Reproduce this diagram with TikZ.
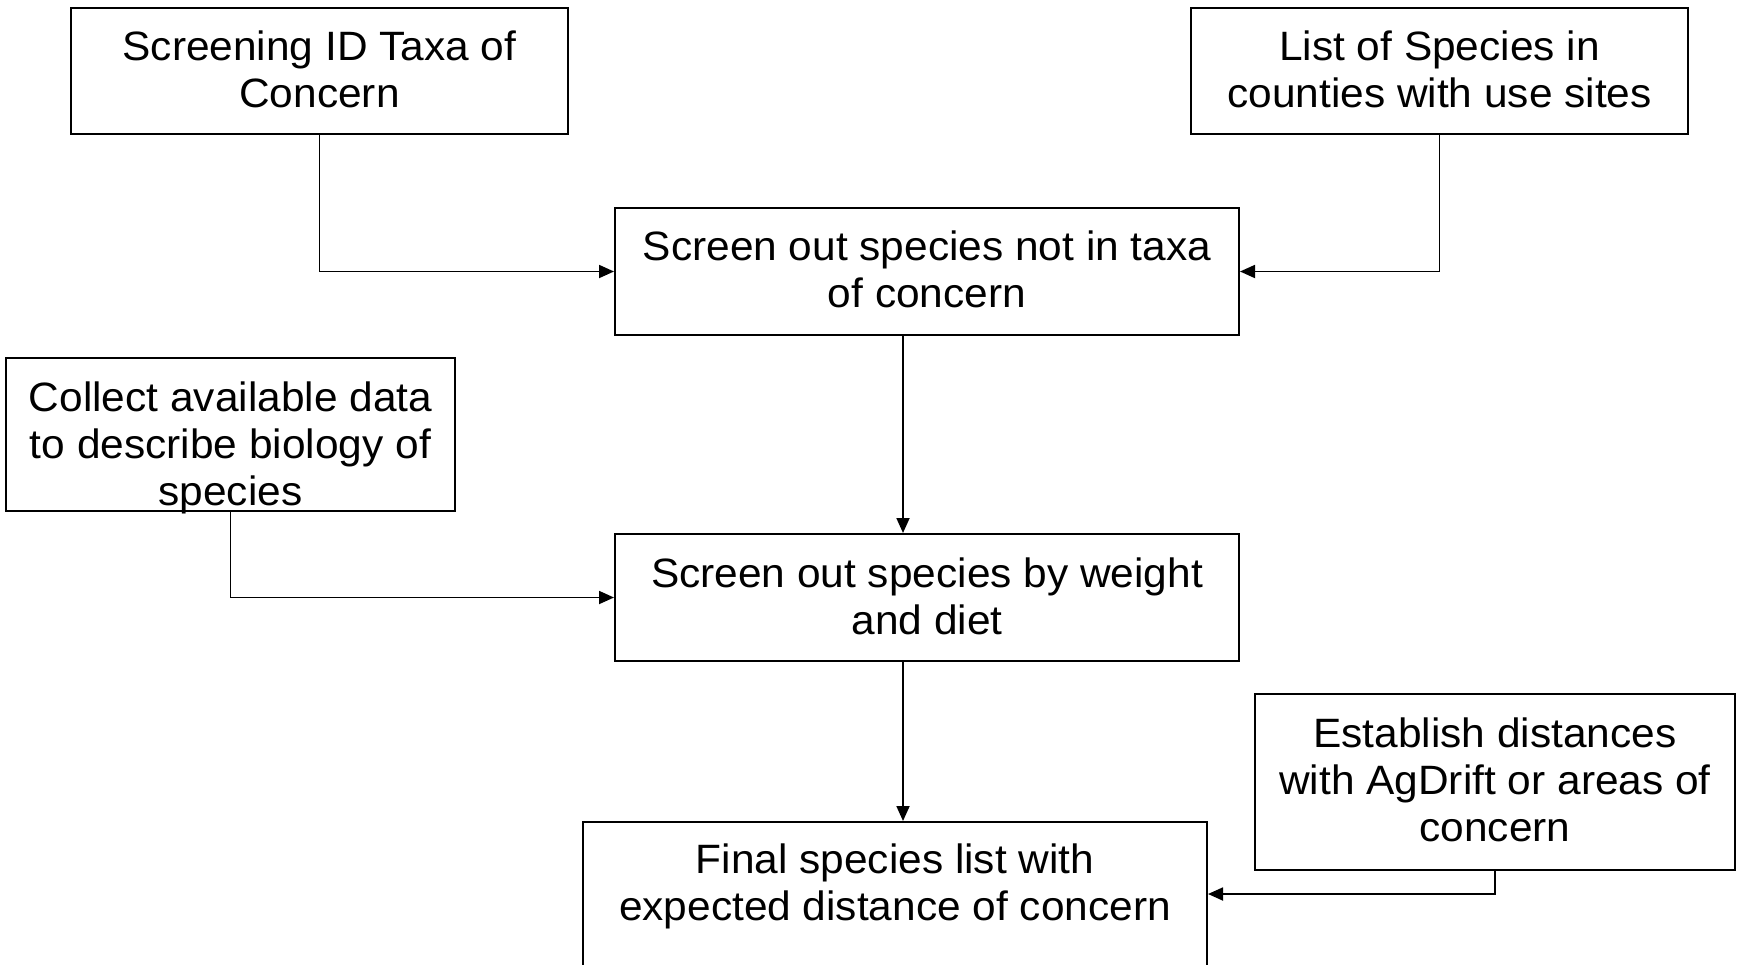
\documentclass[tikz,border=0pt]{standalone}
\usepackage{fontspec}
\setmainfont{Liberation Sans}[FakeStretch=1.035]
\usetikzlibrary{arrows.meta,calc}
\tikzset{
  box/.style={draw, line width=2pt, inner sep=0pt, rectangle},
  txt/.style={align=center, inner sep=0pt, font=\fontsize{41}{47}\selectfont},
  arr/.style={line width=1.8pt, -{Triangle[length=15pt,width=13pt]}},
}
\begin{document}
\begin{tikzpicture}[x=1pt,y=-1pt]
\useasboundingbox (0,0) rectangle (1739,964);
\clip (0,0) rectangle (1739,964);
% boxes
\node[box, minimum width=497pt, minimum height=126pt] (b1) at (319.5,71) {};
\node[box, minimum width=497pt, minimum height=126pt] (b2) at (1439.5,71) {};
\node[box, minimum width=624pt, minimum height=127pt] (b3) at (927,271.5) {};
\node[box, minimum width=449pt, minimum height=153pt] (b4) at (230.5,434.5) {};
\node[box, minimum width=624pt, minimum height=127pt] (b5) at (927,597.5) {};
\node[box, minimum width=480pt, minimum height=176pt] (b6) at (1495,782) {};
\node[box, minimum width=624pt, minimum height=144pt] (b7) at (895,894) {};
% texts
\node[txt] (t1) at ([yshift=1.7pt]b1.center) {Screening ID Taxa of\\Concern};
\node[txt] (t2) at ([yshift=1.7pt]b2.center) {List of Species in\\counties with use sites};
\node[txt] (t3) at ([yshift=2.2pt]b3.center) {Screen out species not in taxa\\of concern};
\node[txt] (t4) at ([yshift=-12.9pt]b4.center) {Collect available data\\to describe biology of\\species};
\node[txt] (t5) at ([yshift=1.5pt]b5.center) {Screen out species by weight\\and diet};
\node[txt] (t6) at ([yshift=2.2pt]b6.center) {Establish distances\\with AgDrift or areas of\\concern};
\node[txt] (t7) at ([yshift=7.8pt]b7.center) {Final species list with\\expected distance of concern};
% connectors
\coordinate (mid) at (903,0);
\draw[arr] (b1.south) |- (b3.west);
\draw[arr] (b2.south) |- (b3.east);
\draw[arr] (b3.south -| mid) -- (b5.north -| mid);
\draw[arr] (b4.south) |- (b5.west);
\draw[arr] (b5.south -| mid) -- (b7.north -| mid);
\draw[arr] (b6.south) |- (b7.east);
\end{tikzpicture}
\end{document}
